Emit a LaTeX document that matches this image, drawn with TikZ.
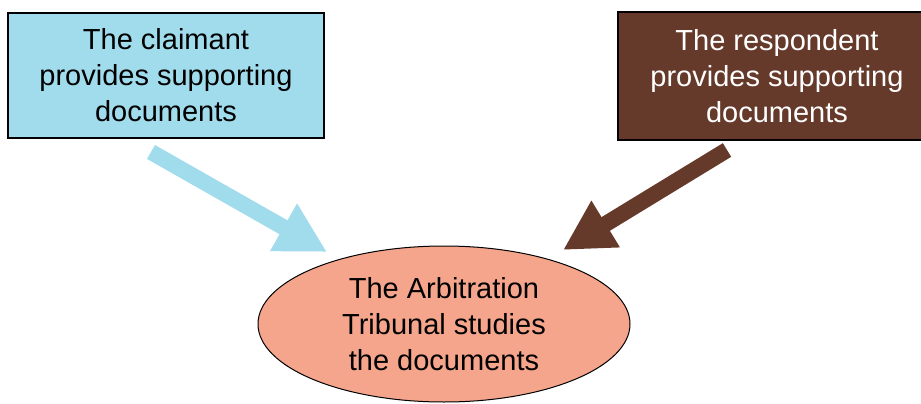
\documentclass[tikz,border=0pt]{standalone}
\usepackage{fontspec}
\setmainfont{Liberation Sans}
\usetikzlibrary{shapes.geometric,arrows.meta}
\definecolor{claimblue}{RGB}{160,220,236}
\definecolor{respbrown}{RGB}{102,58,43}
\definecolor{salmon}{RGB}{245,165,140}
\begin{document}
\begin{tikzpicture}[x=1pt,y=-1pt,
  boxstyle/.style={draw=black,line width=1.2pt,rectangle,inner sep=0pt,align=center,
    font=\fontsize{29}{36}\selectfont},
  bigarrow/.style={line width=16pt,line cap=butt,-{Triangle[width=51pt,length=50pt]}}]
\useasboundingbox (0,0) rectangle (921,404);
\node[boxstyle,fill=claimblue,text=black,minimum width=316pt,minimum height=125pt] (claim) at (166,75.5)
  {The claimant\\provides supporting\\documents};
\node[boxstyle,fill=respbrown,text=white,minimum width=318pt,minimum height=128pt] (resp) at (777,76)
  {The respondent\\provides supporting\\documents};
\coordinate (t1) at (151,152);
\coordinate (h1) at (327,252);
\coordinate (t2) at (727,150);
\coordinate (h2) at (563,250);
\draw[bigarrow,draw=claimblue] (t1) -- (h1);
\draw[bigarrow,draw=respbrown] (t2) -- (h2);
\node[ellipse,draw=black,line width=1pt,fill=salmon,minimum width=372pt,minimum height=156pt,inner sep=0pt,
  align=center,font=\fontsize{29}{36}\selectfont] (trib) at (444,324)
  {The Arbitration\\Tribunal studies\\the documents};
\end{tikzpicture}
\end{document}
